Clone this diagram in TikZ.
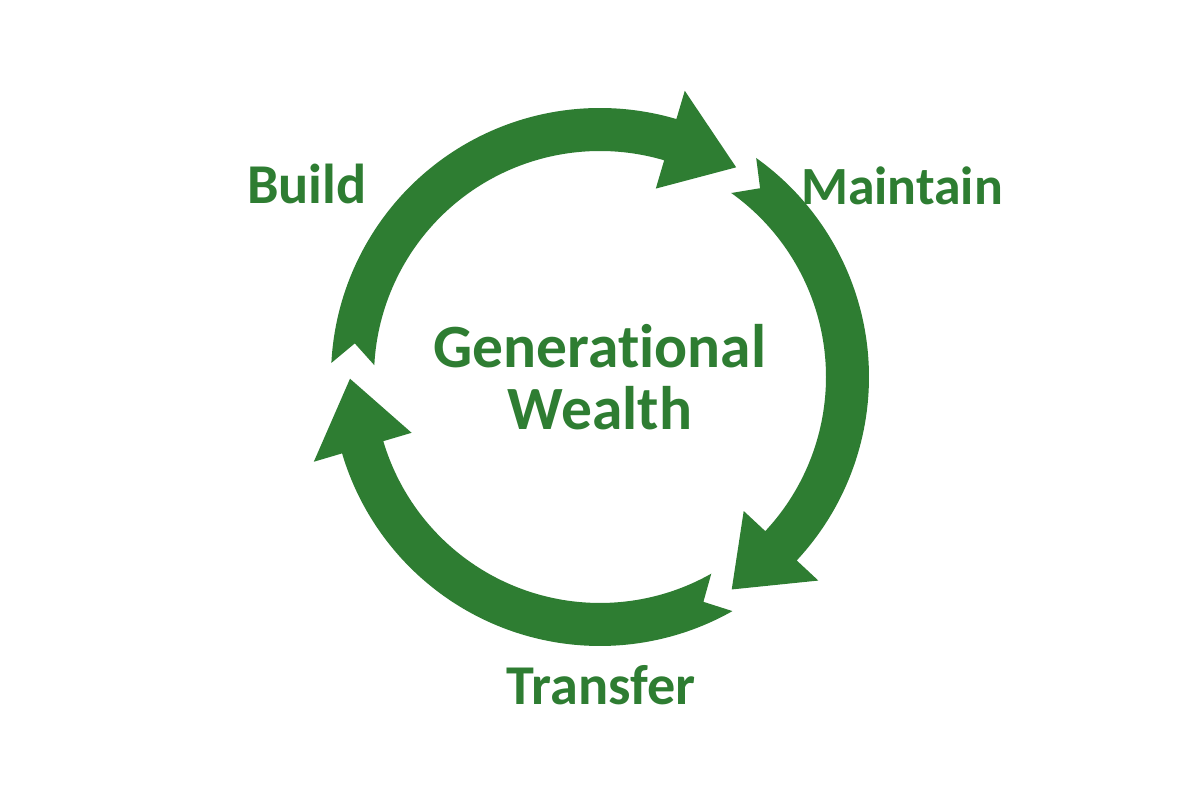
\documentclass[tikz,border=0pt]{standalone}
\usepackage{fontspec}
\setmainfont{Carlito}[Ligatures=NoCommon]
\usepackage{tikz}
\usetikzlibrary{calc}
\definecolor{wealthgreen}{HTML}{2E7D32}

\begin{document}
\begin{tikzpicture}[
    ring/.style={fill=wealthgreen, draw=none},
    stage/.style={font=\fontsize{16}{19}\selectfont\bfseries, text=wealthgreen, anchor=base},
    core/.style={font=\fontsize{17.5}{17.6}\selectfont\bfseries, text=wealthgreen, align=center}
  ]

    % Canvas
    \fill[white] (0,0) rectangle (12,8);
    \useasboundingbox (0,0) rectangle (12,8);
    \coordinate (c) at (6,4.23);

    % Cycle arrows (tail / head base / tip angles)
    \begin{scope}[shift={(c)}]
      \foreach \tail/\base/\tip in {177/73.5/57, 54.5/-43/-58.2, -60.5/-163.5/-179.6} {
        \fill[ring] (\tail:2.69) arc[start angle=\tail, end angle=\base, radius=2.69]
          -- (\base:2.985) -- (\tip:2.5) -- (\base:1.965) -- (\base:2.26)
          arc[start angle=\base, end angle=\tail, radius=2.26]
          -- ({\tail-4.8}:2.475) -- cycle;
      }
    \end{scope}

    % Stages
    \node[stage] (build) at (3.07,5.96) {Build};
    \node[stage, font=\fontsize{15.3}{19}\selectfont\bfseries] (maintain) at (9.02,5.95) {Maintain};
    \node[stage] (transfer) at (6.01,0.95) {Transfer};

    % Centre
    \node[core] (wealth) at (c) {Generational\\Wealth};

\end{tikzpicture}
\end{document}
